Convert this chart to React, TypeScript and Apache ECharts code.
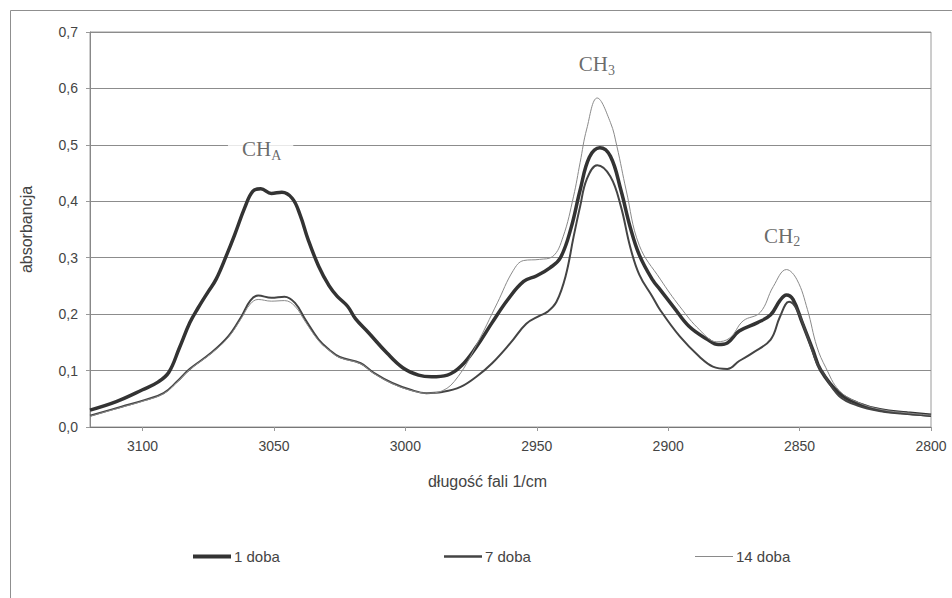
import React, { useEffect, useRef } from "react";
import * as echarts from "echarts";

const xTicks = [2800, 2850, 2900, 2950, 3000, 3050, 3100];
const seriesNames = ["1 doba", "7 doba", "14 doba"];

const dobaX1 = [3120, 3110, 3100, 3094, 3090, 3086, 3082, 3079, 3075, 3072, 3068, 3065, 3061, 3058, 3055, 3051, 3047, 3043, 3040, 3037, 3033, 3029, 3026, 3022, 3019, 3014, 3007, 3001, 2995, 2990, 2984, 2979, 2973, 2967, 2961, 2955, 2950, 2945, 2941, 2937, 2933.5, 2930, 2926, 2922, 2918, 2914.5, 2911, 2906, 2903, 2898, 2892, 2885, 2881, 2877.5, 2873, 2866, 2861, 2857.5, 2855, 2852.5, 2849, 2845, 2842, 2835, 2828, 2819, 2809, 2800];
const dobaY1 = [0.03, 0.045, 0.066, 0.08, 0.097, 0.14, 0.185, 0.21, 0.24, 0.262, 0.305, 0.34, 0.39, 0.418, 0.422, 0.414, 0.416, 0.405, 0.375, 0.332, 0.285, 0.25, 0.232, 0.214, 0.192, 0.167, 0.131, 0.105, 0.092, 0.089, 0.092, 0.107, 0.142, 0.185, 0.226, 0.258, 0.268, 0.282, 0.3, 0.352, 0.42, 0.478, 0.495, 0.48, 0.42, 0.355, 0.305, 0.261, 0.243, 0.213, 0.178, 0.155, 0.146, 0.149, 0.17, 0.185, 0.199, 0.224, 0.234, 0.226, 0.185, 0.137, 0.101, 0.06, 0.042, 0.03, 0.025, 0.021];

const dobaX7 = [3120, 3108, 3099, 3092, 3087, 3082, 3074, 3067.5, 3062.5, 3059, 3056, 3051, 3046, 3042, 3038, 3033, 3029, 3025, 3017, 3012, 3005, 2998, 2992, 2986, 2979, 2973, 2967, 2960, 2954, 2949, 2946, 2942.5, 2939, 2936, 2933.5, 2931, 2927, 2922, 2918, 2914.5, 2911, 2906, 2903, 2895.5, 2888, 2883, 2877.5, 2873, 2868, 2861, 2857.5, 2854, 2851, 2847, 2843.4, 2841, 2835, 2828, 2819, 2809, 2800];
const dobaY7 = [0.02, 0.036, 0.048, 0.06, 0.08, 0.103, 0.131, 0.16, 0.195, 0.224, 0.233, 0.229, 0.231, 0.22, 0.19, 0.155, 0.137, 0.124, 0.113, 0.096, 0.078, 0.066, 0.06, 0.062, 0.071, 0.089, 0.113, 0.149, 0.183, 0.197, 0.204, 0.222, 0.268, 0.337, 0.391, 0.439, 0.464, 0.444, 0.391, 0.32, 0.27, 0.231, 0.207, 0.16, 0.124, 0.107, 0.103, 0.117, 0.131, 0.155, 0.195, 0.222, 0.208, 0.16, 0.113, 0.095, 0.055, 0.038, 0.028, 0.023, 0.02];

const dobaX14 = [3120, 3108, 3099, 3092, 3087, 3082, 3074, 3067.5, 3062.5, 3059, 3056, 3051, 3046, 3042, 3038, 3033, 3029, 3025, 3017, 3012, 3005, 2998, 2992, 2986, 2980, 2973, 2965, 2959, 2955, 2949, 2944, 2940, 2936, 2933.5, 2931, 2927, 2922, 2919.5, 2916, 2911, 2903, 2895.5, 2888, 2881.5, 2876.5, 2871.5, 2865, 2860, 2855, 2851, 2847, 2843.4, 2840, 2835, 2828, 2819, 2809, 2800];
const dobaY14 = [0.019, 0.035, 0.047, 0.059, 0.079, 0.102, 0.13, 0.158, 0.192, 0.218, 0.226, 0.223, 0.224, 0.214, 0.186, 0.153, 0.136, 0.123, 0.112, 0.095, 0.077, 0.065, 0.06, 0.064, 0.089, 0.145, 0.22, 0.277, 0.295, 0.297, 0.302, 0.337, 0.409, 0.469, 0.528, 0.583, 0.54, 0.497, 0.42, 0.322, 0.262, 0.213, 0.172, 0.151, 0.158, 0.188, 0.203, 0.249, 0.279, 0.261, 0.208, 0.142, 0.105, 0.065, 0.044, 0.031, 0.025, 0.021];

const bandLabels = [
  { main: "CH", sub: "A", x: 3067.5, y: 0.492, bg: true },
  { main: "CH", sub: "3", x: 2934, y: 0.643, bg: false },
  { main: "CH", sub: "2", x: 2863.5, y: 0.339, bg: false },
];

const pairs = (xs: number[], ys: number[]) => xs.map((x, i) => [x, ys[i]]);

export default function App() {
  const ref = useRef<HTMLDivElement>(null);
  useEffect(() => {
    if (!ref.current) return;
    const chart = echarts.init(ref.current, null, { renderer: "svg" });
    const sans = "Liberation Sans, Arial, sans-serif";
    const serif = "Liberation Serif, Times New Roman, serif";
    const lineDefs = [
      { name: seriesNames[0], data: pairs(dobaX1, dobaY1), width: 3.5, color: "#333333" },
      { name: seriesNames[1], data: pairs(dobaX7, dobaY7), width: 2, color: "#444444" },
      { name: seriesNames[2], data: pairs(dobaX14, dobaY14), width: 1, color: "#8a8a8a" },
    ];
    const legendLefts = [188, 439, 690];
    const legendIconH = [4, 2.5, 1.2];
    chart.setOption({
      animation: false,
      backgroundColor: "#fff",
      grid: {
        left: 90,
        right: 21,
        top: 32,
        bottom: 171,
        show: true,
        borderColor: "#9a9a9a",
        borderWidth: 1,
      },
      xAxis: {
        type: "value",
        inverse: true,
        min: 2800,
        max: 3120,
        interval: 50,
        name: "długość fali 1/cm",
        nameLocation: "middle",
        nameGap: 46,
        nameTextStyle: { color: "#444", fontSize: 16, fontFamily: sans, padding: [0, 46, 0, 0] },
        axisLine: { show: true, lineStyle: { color: "#777", width: 1 } },
        axisTick: { show: true, length: 4, lineStyle: { color: "#999" } },
        splitLine: { show: false },
        axisLabel: {
          color: "#444",
          fontSize: 14,
          fontFamily: sans,
          margin: 12,
          showMaxLabel: false,
          formatter: (v: number) => (xTicks.includes(v) ? String(v) : ""),
        },
      },
      yAxis: {
        type: "value",
        min: 0,
        max: 0.7,
        interval: 0.1,
        name: "absorbancja",
        nameLocation: "middle",
        nameGap: 56,
        nameTextStyle: { color: "#444", fontSize: 16, fontFamily: sans },
        axisLine: { show: true, lineStyle: { color: "#888", width: 1 } },
        axisTick: { show: true, length: 4, lineStyle: { color: "#999" } },
        splitLine: { show: true, lineStyle: { color: "#8c8c8c", width: 1 } },
        axisLabel: {
          color: "#444",
          fontSize: 14,
          fontFamily: sans,
          margin: 12,
          formatter: (v: number) => v.toFixed(1).replace(".", ","),
        },
      },
      legend: seriesNames.map((n, i) => ({
        data: [{ name: n, icon: "rect" }],
        left: legendLefts[i],
        top: 544,
        itemWidth: 38,
        itemHeight: legendIconH[i],
        itemGap: 0,
        textStyle: { color: "#444", fontSize: 15, fontFamily: sans, padding: [0, 0, 0, -2] },
        selectedMode: false,
      })),
      series: [
        ...lineDefs.map((d) => ({
          name: d.name,
          type: "line",
          data: d.data,
          smooth: 0.4,
          symbol: "none",
          showSymbol: false,
          lineStyle: { width: d.width, color: d.color },
          itemStyle: { color: d.color },
          z: 3,
        })),
        {
          name: "bands",
          type: "scatter",
          silent: true,
          symbolSize: 0,
          z: 5,
          data: bandLabels.map((b) => ({
            value: [b.x, b.y],
            label: {
              show: true,
              position: "right",
              distance: 0,
              formatter: `{m|${b.main}}{s|${b.sub}}`,
              backgroundColor: b.bg ? "#fff" : "transparent",
              padding: b.bg ? [0, 12, 0, 14] : 0,
              rich: {
                m: { fontSize: 21, fontFamily: serif, color: "#444", lineHeight: 26 },
                s: { fontSize: 14, fontFamily: serif, color: "#444", lineHeight: 26, padding: [12, 0, 0, 0] },
              },
            },
          })),
        },
      ],
      graphic: [
        {
          type: "rect",
          shape: { x: 10.5, y: 10.5, width: 1000, height: 1000 },
          style: { fill: "none", stroke: "#8f8f8f", lineWidth: 1 },
          silent: true,
          z: 0,
        },
      ],
    });
    return () => chart.dispose();
  }, []);
  return <div ref={ref} style={{ position: "absolute", left: 0, top: 0, width: 952, height: 598 }} />;
}
